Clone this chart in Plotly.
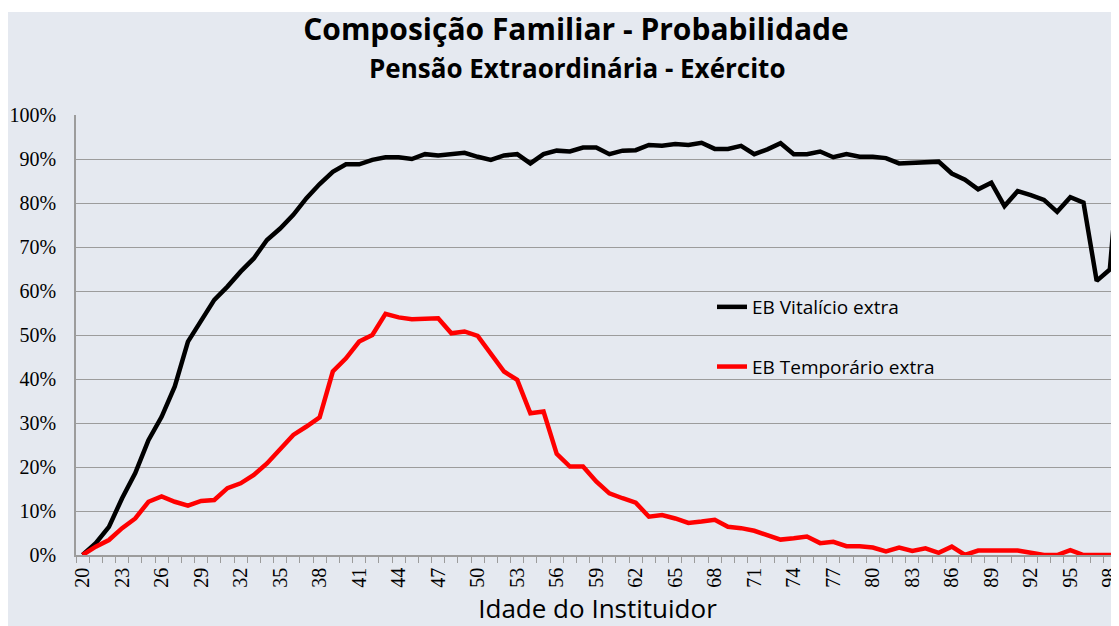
import plotly.graph_objects as go

ages = list(range(20, 100))

vitalicio = [
    0, 2.7, 6.4, 12.9, 18.6, 26.1, 31.4, 38.3, 48.5, 53.4,
    58.0, 61.0, 64.4, 67.4, 71.6, 74.2, 77.3, 81.1, 84.3, 87.1,
    88.8, 88.8, 89.8, 90.4, 90.4, 90.0, 91.1, 90.8, 91.1, 91.4,
    90.5, 89.8, 90.8, 91.1, 89.0, 91.1, 91.9, 91.7, 92.6, 92.6,
    91.1, 91.9, 92.0, 93.2, 93.0, 93.4, 93.2, 93.7, 92.3, 92.3,
    93.0, 91.1, 92.2, 93.6, 91.1, 91.1, 91.7, 90.4, 91.1, 90.5,
    90.5, 90.2, 89.0, 89.2, 89.4, 89.4, 86.7, 85.3, 83.1, 84.6,
    79.3, 82.7, 81.8, 80.7, 78.0, 81.3, 80.1, 62.3, 64.9, 100.0,
]

temporario = [
    0, 1.9, 3.4, 6.1, 8.3, 12.1, 13.3, 12.1, 11.2, 12.3,
    12.5, 15.2, 16.3, 18.2, 20.8, 23.9, 27.3, 29.2, 31.3, 41.7,
    44.7, 48.5, 50.0, 54.8, 54.0, 53.6, 53.6, 53.8, 50.4, 50.8,
    49.8, 45.8, 41.7, 39.8, 32.2, 32.6, 23.0, 20.1, 20.1, 16.7,
    14.0, 12.9, 11.9, 8.7, 9.1, 8.3, 7.3, 7.6, 8.0, 6.4,
    6.1, 5.5, 4.4, 3.5, 3.8, 4.2, 2.7, 3.0, 2.0, 2.0,
    1.7, 0.8, 1.7, 0.9, 1.5, 0.5, 1.9, 0, 1.0, 1.0,
    1.0, 1.0, 0.5, 0, 0, 1.1, 0, 0, 0, 0,
]

label_ages = list(range(20, 99, 3))
y_ticks = list(range(0, 101, 10))
y_labels = [f"{v}%" for v in y_ticks]

BG = "#E5E9F0"
GRID = "#9C9C9C"
SERIF = "Liberation Serif"
SANS = "Open Sans"

# page is offset by the 8px default body margin
W, H = 1111, 618
L, T, B = 68, 107, 71
PW, PH = W - L, H - T - B

fig = go.Figure()
fig.add_trace(go.Scatter(
    x=ages, y=vitalicio, mode="lines", name="EB Vitalício extra",
    line=dict(color="#000000", width=4.5), legendgroup="a", cliponaxis=False,
))
fig.add_trace(go.Scatter(
    x=ages, y=temporario, mode="lines", name="EB Temporário extra",
    line=dict(color="#FF0000", width=4.5), legendgroup="b", cliponaxis=False,
))

fig.update_layout(
    width=W, height=H,
    margin=dict(l=L, r=0, t=T, b=B),
    paper_bgcolor="#FFFFFF",
    plot_bgcolor=BG,
    title=dict(
        text="<b>Composição Familiar - Probabilidade</b>",
        x=568 / W, xanchor="center", y=1 - 21 / H, yanchor="middle",
        font=dict(family=SANS, size=30, color="#000000"),
    ),
    annotations=[dict(
        text="<b>Pensão Extraordinária - Exército</b>",
        xref="paper", yref="paper", x=(577 - 76) / PW, y=(555 - 68) / PH,
        xanchor="center", yanchor="middle", showarrow=False,
        font=dict(family=SANS, size=26, color="#000000"),
    )],
    shapes=[dict(
        type="rect", xref="paper", yref="paper", layer="below",
        x0=-0.2, x1=1.05, y0=-0.3, y1=(PH + T - 4) / PH,
        fillcolor=BG, line=dict(width=0),
    )],
    legend=dict(
        x=(712 - 76) / PW, y=(555 - 288) / PH, xanchor="left", yanchor="top",
        bgcolor="rgba(0,0,0,0)", tracegroupgap=32,
        font=dict(family=SANS, size=19, color="#000000"),
    ),
    showlegend=True,
)

fig.update_xaxes(
    range=[19.5, 19.5 + PW / 13.17],
    tickmode="array", tickvals=label_ages, ticktext=[str(a) for a in label_ages],
    tickangle=-90, ticks="", ticklabelstandoff=3, ticklabeloverflow="allow",
    tickfont=dict(family=SERIF, size=20, color="#000000"),
    showgrid=False, zeroline=False,
    showline=True, linecolor=GRID, linewidth=1.5,
    minor=dict(
        tickmode="array", tickvals=[a - 0.5 for a in ages],
        ticks="outside", ticklen=6, tickcolor=GRID, tickwidth=1, showgrid=False,
    ),
    title=dict(text="Idade do Instituidor", standoff=20,
               font=dict(family=SANS, size=26, color="#000000")),
)
fig.update_yaxes(
    range=[0, 100],
    tickmode="array", tickvals=y_ticks, ticktext=y_labels,
    tickfont=dict(family=SERIF, size=20, color="#000000"),
    ticklabelstandoff=14,
    showgrid=True, gridcolor=GRID, gridwidth=1.3, zeroline=False,
    showline=True, linecolor=GRID, linewidth=1.5,
)

fig.write_html("out.html")
